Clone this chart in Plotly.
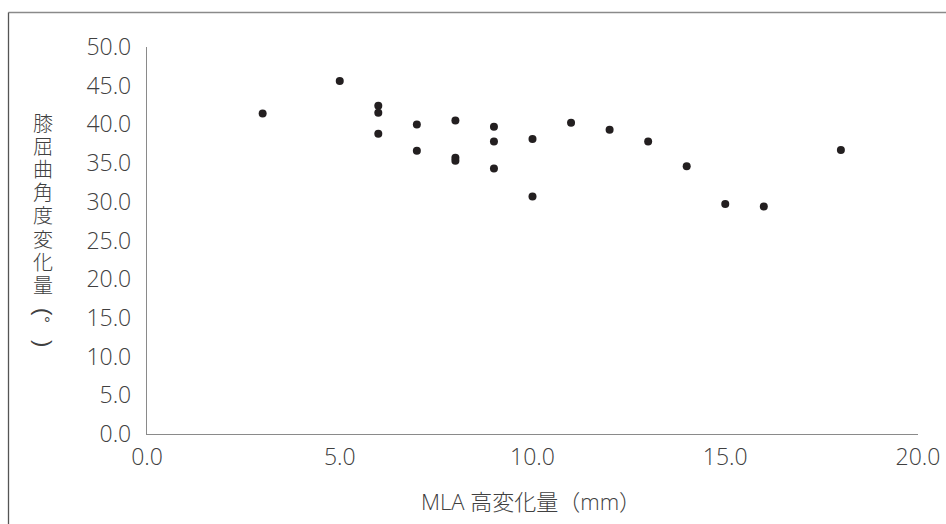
import plotly.graph_objects as go

# Data
mla_change = [3, 5, 6, 6, 6, 7, 7, 8, 8, 8, 9, 9, 9, 10, 10, 11, 12, 13, 14, 15, 16, 18]
knee_change = [41.4, 45.6, 42.4, 41.5, 38.8, 40.0, 36.6, 40.5, 35.7, 35.3, 39.7, 37.8, 34.3,
               38.1, 30.7, 40.2, 39.3, 37.8, 34.6, 29.7, 29.4, 36.7]
x_ticks = [0, 5, 10, 15, 20]
y_ticks = [0, 5, 10, 15, 20, 25, 30, 35, 40, 45, 50]
x_title = "MLA 高変化量（mm）"
y_title_chars = ["膝", "屈", "曲", "角", "度", "変", "化", "量"]

W, H = 946, 524
L, R, T, B = 147, 918, 47, 434
TXT = "#404040"
FONT = "Open Sans"
CJK = "Noto Sans CJK JP"

def px(x):
    return (x - L) / (R - L)

def py(y):
    return (B - y) / (B - T)

fig = go.Figure()
fig.add_trace(go.Scatter(
    x=mla_change, y=knee_change, mode="markers",
    marker=dict(size=8, color="#231f20"),
    showlegend=False, cliponaxis=False, hoverinfo="skip",
))

tickfont = dict(size=23, family=FONT, color=TXT, weight=300)
fig.update_layout(
    width=W, height=H,
    margin=dict(l=L, r=W - R, t=T, b=H - B, pad=0, autoexpand=False),
    paper_bgcolor="white", plot_bgcolor="white",
    font=dict(family=FONT, color=TXT, weight=300),
    xaxis=dict(
        range=[0, 20], tickvals=x_ticks, ticktext=[f"{v:.1f}" for v in x_ticks],
        showgrid=False, zeroline=False, showline=True, linecolor="#8a8a8a", linewidth=1.3,
        ticks="", tickfont=tickfont, ticklabelstandoff=2, automargin=False,
    ),
    yaxis=dict(
        range=[0, 50], tickvals=y_ticks, ticktext=[f"{v:.1f}" for v in y_ticks],
        showgrid=False, zeroline=False, showline=True, linecolor="#8a8a8a", linewidth=1.3,
        ticks="", tickfont=tickfont, ticklabelstandoff=10, automargin=False,
    ),
)

# x-axis title
fig.add_annotation(
    text=x_title, xref="paper", yref="paper", x=px(531), y=py(501),
    xanchor="center", yanchor="middle", showarrow=False,
    font=dict(size=22, family=FONT + ", " + CJK, color=TXT, weight=300),
)
# y-axis title (vertical writing, one glyph per row)
for i, ch in enumerate(y_title_chars):
    fig.add_annotation(
        text=ch, xref="paper", yref="paper", x=px(43), y=py(122.5 + 23.1 * i),
        xanchor="center", yanchor="middle", showarrow=False,
        font=dict(size=20, family=CJK, color=TXT, weight=300),
    )
fig.add_annotation(
    text="(", textangle=90, xref="paper", yref="paper", x=px(44), y=py(312),
    xanchor="center", yanchor="middle", showarrow=False,
    font=dict(size=22, family="Liberation Sans", color=TXT),
)
fig.add_annotation(
    text="°", xref="paper", yref="paper", x=px(47), y=py(323),
    xanchor="center", yanchor="middle", showarrow=False,
    font=dict(size=16, family="Liberation Sans", color=TXT),
)
fig.add_annotation(
    text=")", textangle=90, xref="paper", yref="paper", x=px(44), y=py(343),
    xanchor="center", yanchor="middle", showarrow=False,
    font=dict(size=22, family="Liberation Sans", color=TXT),
)

# outer frame (top and left edges visible)
fig.add_shape(type="line", xref="paper", yref="paper",
              x0=px(8.5), y0=py(12.5), x1=px(960), y1=py(12.5),
              line=dict(color="#8a8a8a", width=1.3))
fig.add_shape(type="line", xref="paper", yref="paper",
              x0=px(8.5), y0=py(12.5), x1=px(8.5), y1=py(540),
              line=dict(color="#555555", width=1.3))

fig.write_html(
    "out.html",
    config={"displayModeBar": False},
    post_script="document.body.style.margin='0';document.body.style.overflow='hidden';",
)
